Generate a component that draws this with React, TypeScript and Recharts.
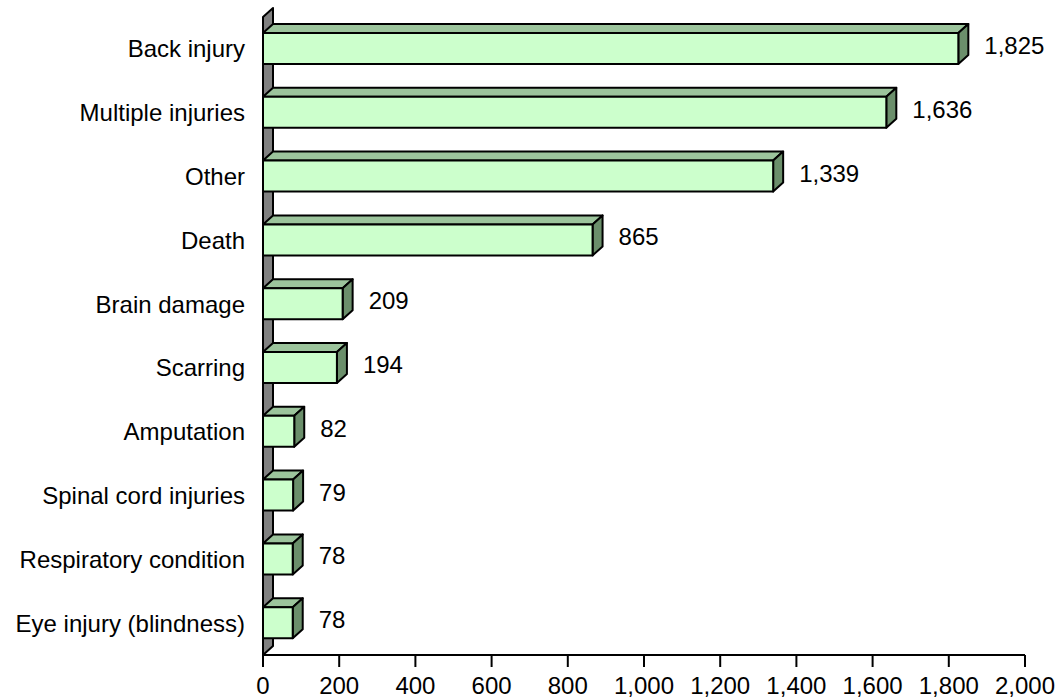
import React from 'react';
import { BarChart, Bar, XAxis, YAxis, LabelList, ReferenceArea } from 'recharts';

// Injury types by number of claims, horizontal 3D-look bars.

const categories = [
  'Back injury',
  'Multiple injuries',
  'Other',
  'Death',
  'Brain damage',
  'Scarring',
  'Amputation',
  'Spinal cord injuries',
  'Respiratory condition',
  'Eye injury (blindness)',
];
const counts = [1825, 1636, 1339, 865, 209, 194, 82, 79, 78, 78];
const xTicks = [0, 200, 400, 600, 800, 1000, 1200, 1400, 1600, 1800, 2000];

const data = categories.map((name, i) => ({ name, value: counts[i] }));

const FONT = '"Liberation Sans", Arial, sans-serif';
const DX = 10;
const DY = -9;

const fmt = (v: number) => v.toLocaleString('en-US');

function Bar3D(props: any) {
  const { x, y, width, height } = props;
  const w = Math.max(width, 0);
  return (
    <g stroke="#000" strokeWidth={2} strokeLinejoin="round">
      <polygon
        points={`${x},${y} ${x + DX},${y + DY} ${x + w + DX},${y + DY} ${x + w},${y}`}
        fill="#9CC49C"
      />
      <polygon
        points={`${x + w},${y} ${x + w + DX},${y + DY} ${x + w + DX},${y + height + DY} ${x + w},${y + height}`}
        fill="#6B8F6B"
      />
      <rect x={x} y={y} width={w} height={height} fill="#CCFFCC" />
    </g>
  );
}

function Wall(props: any) {
  const { x, y, height } = props;
  return (
    <polygon
      points={`${x},${y} ${x + DX},${y + DY} ${x + DX},${y + height + DY} ${x},${y + height}`}
      fill="#808080"
      stroke="#000"
      strokeWidth={2}
      strokeLinejoin="round"
    />
  );
}

function ValueLabel(props: any) {
  const { x, y, width, height, value } = props;
  return (
    <text
      x={x + width + DX + 16}
      y={y + height / 2 - 3}
      dominantBaseline="central"
      fontSize={24}
      fontFamily={FONT}
      fill="#000"
    >
      {fmt(value)}
    </text>
  );
}

function CategoryTick(props: any) {
  const { x, y, payload } = props;
  return (
    <text
      x={x}
      y={y}
      textAnchor="end"
      dominantBaseline="central"
      fontSize={24}
      fontFamily={FONT}
      fill="#000"
    >
      {payload.value}
    </text>
  );
}

export default function App() {
  return (
    <div style={{ position: 'absolute', left: 0, top: 0, background: '#fff' }}>
      <BarChart
        layout="vertical"
        width={1060}
        height={700}
        data={data}
        margin={{ top: 17, right: 35, bottom: 0, left: 0 }}
      >
        <XAxis
          type="number"
          domain={[0, 2000]}
          ticks={xTicks}
          tickFormatter={fmt}
          height={45}
          axisLine={{ stroke: '#000', strokeWidth: 2 }}
          tickLine={{ stroke: '#000', strokeWidth: 2 }}
          tickSize={12}
          tickMargin={10}
          tick={{ fill: '#000', fontSize: 24, fontFamily: FONT }}
          interval={0}
        />
        <YAxis
          type="category"
          dataKey="name"
          width={263}
          axisLine={false}
          tickLine={false}
          tickSize={0}
          tickMargin={18}
          tick={<CategoryTick />}
          interval={0}
        />
        <ReferenceArea x1={0} x2={2000} ifOverflow="visible" shape={<Wall />} />
        <Bar dataKey="value" barSize={31} shape={<Bar3D />} isAnimationActive={false}>
          <LabelList dataKey="value" content={<ValueLabel />} />
        </Bar>
      </BarChart>
    </div>
  );
}
